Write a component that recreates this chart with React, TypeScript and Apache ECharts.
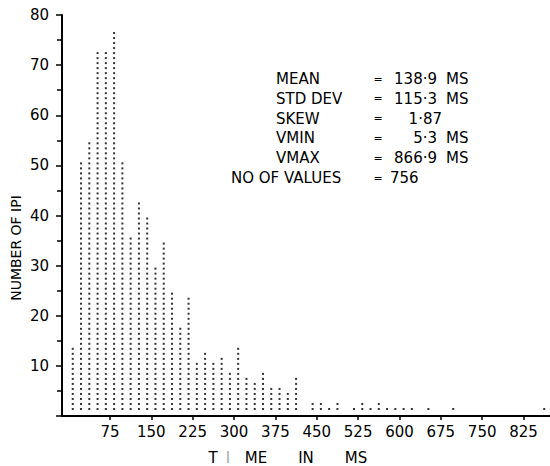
import React, { useEffect, useRef } from "react";
import * as echarts from "echarts";

// Histogram of inter-pulse intervals, 15 ms bins starting at 0 ms
const binWidth = 15;
const binStart = 0;
const counts = [
  13, 50, 54, 72, 72, 76, 50, 35, 42, 39,
  29, 34, 24, 17, 23, 10, 12, 10, 11, 8,
  13, 7, 6, 8, 5, 5, 4, 7, 0, 2,
  2, 1, 2, 0, 1, 2, 1, 2, 1, 1,
  1, 1, 0, 1, 0, 0, 1, 0, 0, 0,
  0, 0, 0, 0, 0, 0, 0, 1,
];
const xTickValues = [75, 150, 225, 300, 375, 450, 525, 600, 675, 750, 825];
const yTickValues = [10, 20, 30, 40, 50, 60, 70, 80];

const statNames = ["MEAN", "STD DEV", "SKEW", "VMIN", "VMAX", "NO OF VALUES"];
const statValues = ["138·9", "115·3", "1·87", "5·3", "866·9", "756"];
const statUnits = ["MS", "MS", "", "MS", "MS", ""];

const FONT = '"DejaVu Sans", "Liberation Sans", sans-serif';

export default function App() {
  const ref = useRef<HTMLDivElement>(null);

  useEffect(() => {
    document.body.style.margin = "0";
    const chart = echarts.init(ref.current!, null, { renderer: "svg" });

    const dots: number[][] = [];
    counts.forEach((c, i) => {
      const center = binStart + binWidth * (i + 0.5);
      for (let k = 1; k <= c; k++) dots.push([center, k + 0.4]);
    });

    const rowY0 = 79;
    const rowDy = 19.8;
    const graphic: any[] = [];
    statNames.forEach((name, i) => {
      const y = rowY0 + rowDy * i;
      const last = i === statNames.length - 1;
      graphic.push({
        type: "text",
        x: last ? 231 : 276,
        y,
        style: { text: name, fill: "#000", font: `15px ${FONT}`, textAlign: "left", verticalAlign: "middle" },
      });
      graphic.push({
        type: "text",
        x: 378,
        y,
        style: { text: "=", fill: "#000", font: `11px ${FONT}`, textAlign: "center", verticalAlign: "middle" },
      });
      const v = statValues[i];
      const isCount = last;
      const isSkew = statUnits[i] === "" && !last;
      graphic.push({
        type: "text",
        x: isCount ? 390 : isSkew ? 442 : 437,
        y,
        style: {
          text: v,
          fill: "#000",
          font: `15px ${FONT}`,
          textAlign: isCount ? "left" : "right",
          verticalAlign: "middle",
        },
      });
      if (statUnits[i]) {
        graphic.push({
          type: "text",
          x: 446,
          y,
          style: { text: statUnits[i], fill: "#000", font: `15px ${FONT}`, textAlign: "left", verticalAlign: "middle" },
        });
      }
    });

    // y-axis name
    graphic.push({
      type: "text",
      x: 16,
      y: 248,
      rotation: Math.PI / 2,
      style: { text: "NUMBER OF IPI", fill: "#000", font: `14px ${FONT}`, textAlign: "center", verticalAlign: "middle" },
    });
    // x-axis name
    const xName = [
      { t: "T", x: 213, c: "#000" },
      { t: "I", x: 228, c: "#aaa" },
      { t: "ME", x: 256, c: "#000" },
      { t: "IN", x: 306, c: "#000" },
      { t: "MS", x: 356, c: "#000" },
    ];
    xName.forEach((p) =>
      graphic.push({
        type: "text",
        x: p.x,
        y: 458,
        style: { text: p.t, fill: p.c, font: `15px ${FONT}`, textAlign: "center", verticalAlign: "middle" },
      })
    );

    chart.setOption({
      animation: false,
      backgroundColor: "#fff",
      grid: { left: 62, right: 0, top: 15, bottom: 50 },
      xAxis: {
        type: "value",
        min: -12,
        max: 873,
        axisLine: { show: true, onZero: false, lineStyle: { color: "#000", width: 2 } },
        axisTick: { show: true, length: 4, customValues: xTickValues, lineStyle: { color: "#000", width: 1.5 } },
        axisLabel: { customValues: xTickValues, color: "#000", fontSize: 15, fontFamily: FONT, margin: 8 },
        splitLine: { show: false },
      },
      yAxis: {
        type: "value",
        min: 0,
        max: 80,
        interval: 10,
        axisLine: { show: true, onZero: false, lineStyle: { color: "#000", width: 2 } },
        axisTick: { show: true, length: 6, lineStyle: { color: "#000", width: 1.5 } },
        minorTick: { show: true, splitNumber: 2, length: 5, lineStyle: { color: "#000", width: 1.5 } },
        axisLabel: { customValues: yTickValues, color: "#000", fontSize: 15, fontFamily: FONT, margin: 13 },
        splitLine: { show: false },
        minorSplitLine: { show: false },
      },
      series: [
        {
          type: "scatter",
          symbol: "rect",
          symbolSize: 2,
          data: dots,
          itemStyle: { color: "#000" },
          silent: true,
        },
      ],
      graphic,
    });

    return () => chart.dispose();
  }, []);

  return <div ref={ref} style={{ width: 550, height: 466, position: "absolute", left: 0, top: 0 }} />;
}
